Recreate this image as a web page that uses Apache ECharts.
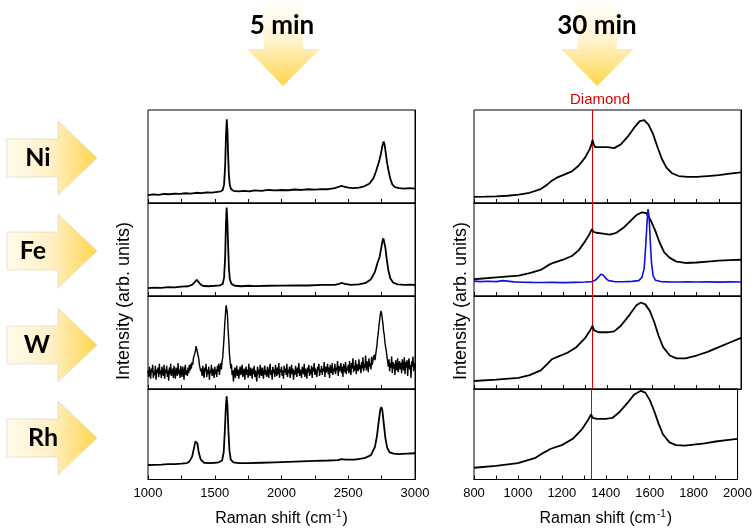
<!DOCTYPE html>
<html>
<head>
<meta charset="utf-8">
<script src="https://cdn.jsdelivr.net/npm/echarts@6/dist/echarts.min.js"></script>
<style>
html,body{margin:0;padding:0;background:#fff;}
#c{width:755px;height:528px;}
</style>
</head>
<body>
<div id="c"></div>
<script>
// ---------------- DATA ----------------
const panelNames = ['Ni', 'Fe', 'W', 'Rh'];
const titles = ['5 min', '30 min'];
const leftTicks = { min: 1000, max: 3000, step: 250, labelStep: 500 };
const rightTicks = { min: 800, max: 2000, step: 100, labelStep: 200 };
const diamondShift = 1332;

// 5 min spectra: [Raman shift, normalised intensity]
const ni5 = [[1000,0.085],[1040,0.092],[1080,0.088],[1120,0.097],[1160,0.094],[1200,0.10],[1240,0.098],[1280,0.105],[1320,0.10],[1360,0.11],[1400,0.107],[1440,0.115],[1480,0.112],[1520,0.12],[1545,0.125],[1560,0.14],[1570,0.20],[1578,0.40],[1584,0.72],[1590,0.90],[1595,0.78],[1600,0.52],[1606,0.30],[1613,0.19],[1622,0.15],[1640,0.13],[1680,0.125],[1720,0.13],[1760,0.125],[1800,0.135],[1850,0.13],[1900,0.14],[1950,0.135],[2000,0.14],[2050,0.137],[2100,0.145],[2150,0.14],[2200,0.148],[2250,0.143],[2300,0.15],[2350,0.148],[2400,0.16],[2430,0.175],[2450,0.185],[2470,0.175],[2500,0.165],[2540,0.16],[2580,0.165],[2620,0.18],[2660,0.21],[2690,0.27],[2710,0.35],[2725,0.42],[2735,0.47],[2745,0.53],[2755,0.61],[2765,0.66],[2772,0.63],[2780,0.55],[2790,0.44],[2800,0.36],[2815,0.26],[2830,0.20],[2850,0.17],[2880,0.16],[2920,0.155],[2960,0.16],[3000,0.155]];

const fe5 = [[1000,0.085],[1050,0.09],[1100,0.088],[1150,0.095],[1200,0.092],[1250,0.10],[1300,0.105],[1330,0.12],[1350,0.15],[1365,0.175],[1375,0.17],[1390,0.13],[1410,0.11],[1450,0.105],[1500,0.11],[1540,0.115],[1560,0.13],[1570,0.20],[1578,0.42],[1584,0.78],[1589,0.95],[1594,0.82],[1600,0.55],[1606,0.30],[1613,0.18],[1625,0.13],[1650,0.11],[1700,0.105],[1750,0.11],[1800,0.107],[1900,0.11],[2000,0.112],[2100,0.115],[2200,0.113],[2300,0.12],[2400,0.12],[2430,0.13],[2450,0.14],[2475,0.13],[2520,0.12],[2580,0.125],[2630,0.14],[2670,0.18],[2700,0.26],[2720,0.36],[2735,0.42],[2745,0.50],[2755,0.58],[2763,0.62],[2770,0.60],[2778,0.52],[2788,0.40],[2800,0.28],[2815,0.19],[2835,0.145],[2870,0.125],[2920,0.12],[2960,0.122],[3000,0.12]];

// W (5 min) is very noisy: sampled every 5 cm-1 from 1000 to 3000
const w5Start = 1000, w5Step = 5;
const w5 = [
0.20,0.13,0.24,0.16,0.11,0.22,0.18,0.26,0.12,0.19,0.15,0.25,0.10,0.21,0.17,0.23,0.13,0.27,0.16,0.20,
0.12,0.24,0.18,0.14,0.26,0.11,0.21,0.17,0.25,0.13,0.20,0.09,0.23,0.16,0.27,0.14,0.19,0.22,0.12,0.25,
0.17,0.11,0.23,0.20,0.14,0.28,0.16,0.21,0.12,0.25,0.18,0.13,0.24,0.19,0.10,0.22,0.26,0.15,0.20,0.14,
0.23,0.17,0.26,0.20,0.27,0.22,0.29,0.26,0.33,0.31,0.38,0.41,0.46,0.43,0.44,0.36,0.33,0.26,0.24,0.19,
0.22,0.14,0.25,0.18,0.12,0.23,0.19,0.27,0.13,0.21,0.16,0.24,0.10,0.20,0.17,0.26,0.14,0.22,0.18,0.12,
0.24,0.16,0.21,0.13,0.25,0.19,0.27,0.15,0.22,0.28,0.21,0.30,0.34,0.45,0.56,0.70,0.80,0.90,0.86,0.80,
0.64,0.52,0.38,0.30,0.22,0.27,0.15,0.20,0.08,0.17,0.23,0.12,0.19,0.25,0.14,0.21,0.11,0.18,0.24,0.15,
0.20,0.26,0.13,0.17,0.22,0.10,0.19,0.24,0.15,0.21,0.12,0.27,0.17,0.14,0.23,0.19,0.11,0.22,0.16,0.25,
0.13,0.20,0.18,0.08,0.24,0.16,0.21,0.12,0.26,0.19,0.14,0.23,0.17,0.11,0.22,0.25,0.15,0.20,0.13,0.24,
0.18,0.12,0.22,0.27,0.15,0.20,0.10,0.24,0.17,0.21,0.13,0.26,0.19,0.14,0.23,0.16,0.28,0.12,0.21,0.18,
0.24,0.14,0.20,0.11,0.25,0.18,0.22,0.15,0.27,0.13,0.21,0.17,0.24,0.12,0.19,0.26,0.16,0.22,0.10,0.20,
0.15,0.25,0.19,0.13,0.23,0.17,0.28,0.14,0.21,0.18,0.12,0.24,0.20,0.16,0.27,0.13,0.22,0.19,0.11,0.23,
0.18,0.26,0.14,0.21,0.16,0.25,0.12,0.23,0.19,0.28,0.15,0.22,0.17,0.13,0.24,0.20,0.27,0.14,0.21,0.18,
0.25,0.15,0.22,0.19,0.29,0.13,0.24,0.18,0.21,0.27,0.16,0.23,0.12,0.26,0.20,0.17,0.28,0.15,0.22,0.19,
0.27,0.16,0.23,0.20,0.30,0.14,0.25,0.19,0.22,0.28,0.17,0.24,0.13,0.27,0.21,0.18,0.29,0.16,0.23,0.20,
0.26,0.17,0.30,0.21,0.15,0.28,0.22,0.33,0.18,0.25,0.20,0.31,0.16,0.27,0.23,0.19,0.32,0.21,0.26,0.17,
0.29,0.22,0.34,0.19,0.27,0.23,0.36,0.20,0.30,0.25,0.18,0.33,0.24,0.28,0.21,0.35,0.26,0.31,0.29,0.37,
0.31,0.36,0.42,0.47,0.55,0.60,0.68,0.74,0.80,0.84,0.81,0.76,0.70,0.62,0.58,0.50,0.45,0.41,0.35,0.30,
0.24,0.32,0.19,0.28,0.23,0.35,0.17,0.29,0.22,0.27,0.15,0.31,0.24,0.20,0.33,0.18,0.26,0.30,0.21,0.28,
0.17,0.32,0.25,0.20,0.34,0.16,0.29,0.23,0.31,0.14,0.27,0.33,0.21,0.26,0.12,0.30,0.24,0.35,0.19,0.28,
0.22];

const rh5 = [[1000,0.16],[1050,0.162],[1100,0.165],[1150,0.17],[1200,0.17],[1250,0.175],[1290,0.18],[1310,0.20],[1330,0.25],[1345,0.35],[1355,0.42],[1362,0.44],[1370,0.40],[1380,0.30],[1395,0.22],[1420,0.185],[1460,0.18],[1500,0.185],[1530,0.19],[1555,0.21],[1567,0.30],[1576,0.55],[1583,0.80],[1589,0.92],[1595,0.82],[1602,0.55],[1610,0.32],[1620,0.22],[1640,0.19],[1680,0.18],[1750,0.18],[1850,0.185],[1950,0.19],[2050,0.195],[2150,0.20],[2250,0.205],[2350,0.21],[2420,0.215],[2450,0.225],[2480,0.22],[2550,0.22],[2620,0.235],[2670,0.27],[2700,0.36],[2715,0.48],[2728,0.64],[2740,0.77],[2748,0.80],[2756,0.76],[2766,0.62],[2778,0.46],[2792,0.35],[2810,0.30],[2840,0.285],[2880,0.28],[2940,0.285],[3000,0.29]];

// 30 min spectra
const ni30 = [[800,0.065],[850,0.068],[900,0.072],[950,0.078],[1000,0.09],[1050,0.11],[1100,0.15],[1130,0.20],[1150,0.24],[1170,0.27],[1200,0.30],[1240,0.34],[1270,0.40],[1300,0.49],[1320,0.58],[1328,0.63],[1333,0.68],[1338,0.63],[1345,0.60],[1370,0.60],[1400,0.60],[1430,0.59],[1460,0.63],[1490,0.71],[1520,0.81],[1545,0.88],[1565,0.89],[1585,0.84],[1605,0.74],[1625,0.60],[1645,0.47],[1665,0.38],[1690,0.32],[1720,0.29],[1760,0.28],[1800,0.28],[1850,0.29],[1900,0.30],[1950,0.315],[2000,0.33]];

const fe30 = [[800,0.18],[900,0.20],[1000,0.22],[1050,0.245],[1100,0.28],[1140,0.34],[1160,0.36],[1200,0.39],[1240,0.43],[1270,0.49],[1300,0.59],[1320,0.67],[1330,0.72],[1337,0.69],[1350,0.68],[1380,0.67],[1410,0.66],[1440,0.68],[1470,0.73],[1500,0.80],[1530,0.87],[1555,0.90],[1575,0.89],[1595,0.81],[1615,0.70],[1635,0.57],[1655,0.47],[1680,0.41],[1710,0.37],[1750,0.355],[1800,0.36],[1850,0.37],[1900,0.38],[1950,0.385],[2000,0.39]];

const fe30blue = [[800,0.16],[830,0.155],[860,0.158],[900,0.155],[930,0.165],[950,0.16],[980,0.152],[1020,0.148],[1060,0.146],[1100,0.145],[1150,0.147],[1200,0.144],[1250,0.147],[1300,0.15],[1330,0.155],[1345,0.17],[1358,0.20],[1370,0.235],[1380,0.225],[1392,0.19],[1405,0.165],[1430,0.155],[1470,0.153],[1510,0.157],[1540,0.165],[1555,0.20],[1565,0.30],[1572,0.55],[1578,0.80],[1582,0.935],[1587,0.85],[1592,0.60],[1598,0.35],[1605,0.22],[1615,0.17],[1640,0.155],[1680,0.152],[1720,0.15],[1760,0.153],[1800,0.15],[1850,0.152],[1900,0.149],[1950,0.152],[2000,0.15]];

const w30 = [[800,0.086],[900,0.10],[1000,0.12],[1050,0.15],[1100,0.20],[1130,0.27],[1150,0.32],[1180,0.35],[1220,0.39],[1260,0.45],[1300,0.55],[1322,0.63],[1333,0.68],[1340,0.63],[1360,0.61],[1400,0.61],[1430,0.62],[1460,0.68],[1500,0.80],[1530,0.90],[1550,0.93],[1570,0.91],[1590,0.84],[1610,0.72],[1630,0.57],[1650,0.45],[1680,0.36],[1710,0.33],[1750,0.33],[1800,0.36],[1850,0.40],[1900,0.45],[1950,0.50],[2000,0.55]];

const rh30 = [[800,0.13],[900,0.15],[1000,0.18],[1080,0.24],[1120,0.30],[1150,0.34],[1200,0.38],[1250,0.45],[1290,0.55],[1320,0.66],[1333,0.72],[1340,0.68],[1360,0.67],[1400,0.67],[1430,0.68],[1460,0.74],[1500,0.85],[1530,0.94],[1560,0.98],[1580,0.96],[1600,0.88],[1620,0.76],[1640,0.62],[1660,0.50],[1690,0.41],[1720,0.38],[1760,0.375],[1800,0.385],[1850,0.40],[1900,0.42],[1950,0.435],[2000,0.45]];

// ---------------- LAYOUT ----------------
const FONT = 'Liberation Sans, Arial, sans-serif';
const TITLE_FONT = 'Lato, Open Sans, sans-serif';
const panelTops = [110, 203, 296, 389];
const panelH = 93;
const leftX = 148, rightX = 474, panelW = 267;

const w5Data = w5.map((v, i) => [w5Start + i * w5Step, v]);
const leftSeriesData = [ni5, fe5, w5Data, rh5];
const rightSeriesData = [ni30, fe30, w30, rh30];

const grids = [], xAxes = [], yAxes = [], series = [];
function addPanel(col, row, data) {
  const idx = grids.length;
  const tk = col === 0 ? leftTicks : rightTicks;
  const bottom = row === 3;
  grids.push({ left: col === 0 ? leftX : rightX, top: panelTops[row], width: panelW, height: panelH,
    show: true, borderColor: '#000', borderWidth: 1, backgroundColor: 'rgba(0,0,0,0)' });
  xAxes.push({
    gridIndex: idx, type: 'value', min: tk.min, max: tk.max, interval: tk.step,
    axisLine: { show: true, onZero: false, lineStyle: { color: '#000', width: 1 } },
    axisTick: { show: true, inside: true, length: 4, lineStyle: { color: '#000', width: 1 } },
    axisLabel: { show: bottom, color: '#000', fontSize: 13, fontFamily: FONT, margin: 7,
      formatter: v => (v % tk.labelStep === 0 ? String(v) : '') },
    splitLine: { show: false },
    name: bottom ? 'Raman shift (cm{sup|-1})' : '',
    nameLocation: 'middle', nameGap: 30,
    nameTextStyle: { color: '#000', fontSize: 16, fontFamily: FONT,
      rich: { sup: { fontSize: 10, fontFamily: FONT, color: '#000', padding: [0, 1, 9, 1] } } }
  });
  // right-hand frame line of each panel
  yAxes.push({ gridIndex: idx, type: 'value', min: 0, max: 1, position: 'right',
    axisLine: { show: true, lineStyle: { color: '#000', width: 1 } },
    axisTick: { show: false }, axisLabel: { show: false }, splitLine: { show: false } });
  series.push({ type: 'line', xAxisIndex: idx, yAxisIndex: idx, data: data, showSymbol: false,
    symbol: 'none', animation: false, z: 3,
    lineStyle: { color: '#000', width: (col === 0 && row === 2) ? 1.4 : 1.8 } });
  return idx;
}
leftSeriesData.forEach((d, r) => addPanel(0, r, d));
rightSeriesData.forEach((d, r) => {
  const idx = addPanel(1, r, d);
  series[series.length - 1].markLine = {
    silent: true, symbol: 'none', animation: false, z: 2,
    label: { show: false },
    lineStyle: { color: '#e00000', width: 1, type: 'solid' },
    data: [{ xAxis: diamondShift }]
  };
  if (r === 1) {
    series.push({ type: 'line', xAxisIndex: idx, yAxisIndex: idx, data: fe30blue, showSymbol: false,
      symbol: 'none', animation: false, z: 3, lineStyle: { color: '#1010e0', width: 1.6 } });
  }
});

// ---------------- DECORATION (arrows, titles) ----------------
const G = echarts.graphic;
const graphics = [];
function downArrow(cx) {
  graphics.push({ type: 'polygon', z: 1,
    shape: { points: [[cx - 19, 0], [cx + 20, 0], [cx + 20, 49], [cx + 37, 49], [cx, 86], [cx - 36, 49], [cx - 19, 49]] },
    style: { fill: new G.LinearGradient(0, 0, 0, 1, [
      { offset: 0, color: '#ffffff' }, { offset: 0.45, color: '#fff4d2' }, { offset: 1, color: '#ffd54a' }]) } });
}
downArrow(283);
downArrow(597);
graphics.push({ type: 'text', z: 5, style: { text: titles[0], x: 282, y: 26, align: 'center', verticalAlign: 'middle',
  fontSize: 26, fontWeight: 'bold', fontFamily: TITLE_FONT, fill: '#000' } });
graphics.push({ type: 'text', z: 5, style: { text: titles[1], x: 597, y: 26, align: 'center', verticalAlign: 'middle',
  fontSize: 26, fontWeight: 'bold', fontFamily: TITLE_FONT, fill: '#000' } });

const sideCenters = [158, 251, 345, 438];
const sideTextX = [38, 33, 37, 43];
sideCenters.forEach((cy, i) => {
  graphics.push({ type: 'polygon', z: 1,
    shape: { points: [[7, cy - 19], [58, cy - 19], [58, cy - 37], [97, cy], [58, cy + 37], [58, cy + 19], [7, cy + 19]] },
    style: { fill: new G.LinearGradient(0, 0, 1, 0, [
      { offset: 0, color: '#fffbec' }, { offset: 0.5, color: '#fff0c4' }, { offset: 1, color: '#ffd549' }]),
      stroke: '#e3dcc4', lineWidth: 0.8 } });
  graphics.push({ type: 'text', z: 5, style: { text: panelNames[i], x: sideTextX[i], y: cy, align: 'center', verticalAlign: 'middle',
    fontSize: 25, fontWeight: 'bold', fontFamily: TITLE_FONT, fill: '#000' } });
});

// y-axis labels
[124, 461].forEach(x => {
  graphics.push({ type: 'text', z: 5, x: x, y: 301, rotation: Math.PI / 2,
    style: { text: 'Intensity (arb. units)', x: 0, y: 0, align: 'center', verticalAlign: 'middle',
      fontSize: 18, fontFamily: FONT, fill: '#000' } });
});
// Diamond label
graphics.push({ type: 'text', z: 5, style: { text: 'Diamond', x: 600, y: 100, align: 'center', verticalAlign: 'middle',
  fontSize: 15, fontFamily: FONT, fill: '#e00000' } });

const chart = echarts.init(document.getElementById('c'), null, { renderer: 'canvas' });
chart.setOption({
  animation: false,
  backgroundColor: '#fff',
  grid: grids, xAxis: xAxes, yAxis: yAxes, series: series,
  graphic: graphics
});
</script>
</body>
</html>
